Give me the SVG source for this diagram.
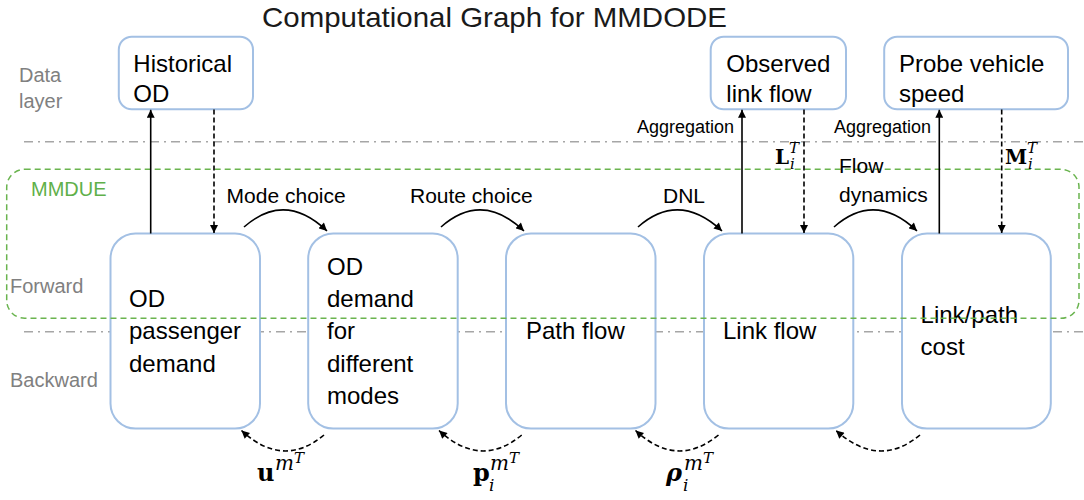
<svg xmlns="http://www.w3.org/2000/svg" width="1084" height="500" viewBox="0 0 1084 500">
<defs>
<marker id="ah" viewBox="0 0 10 10" refX="10" refY="5" markerUnits="userSpaceOnUse" markerWidth="9" markerHeight="8" orient="auto"><path d="M0,0 L10,5 L0,10 z" fill="#000"/></marker>
<style>
.box{fill:#fff;stroke:#a3c0e4;stroke-width:2}
.t{font-family:"Liberation Sans",Arial,sans-serif;font-size:24px;fill:#000}
.lbl{font-family:"Liberation Sans",Arial,sans-serif;font-size:21px;fill:#000}
.agg{font-family:"Liberation Sans",Arial,sans-serif;font-size:18px;fill:#000}
.side{font-family:"Liberation Sans",Arial,sans-serif;font-size:20px;fill:#808080}
.sep{stroke:#a6a6a6;stroke-width:1.5;stroke-dasharray:9 5 2 5;fill:none}
.mmdue{fill:none;stroke:#6ab44f;stroke-width:1.5;stroke-dasharray:6 4}
.solid{stroke:#000;stroke-width:1.6;fill:none;marker-end:url(#ah)}
.dash{stroke:#000;stroke-width:1.6;fill:none;stroke-dasharray:5 3;marker-end:url(#ah)}
.mb{font-family:"DejaVu Serif",serif;font-weight:bold;fill:#000}
.mi{font-family:"DejaVu Serif",serif;font-style:italic;fill:#000}
</style>
</defs>

<text x="262" y="27" font-family="Liberation Sans, Arial, sans-serif" font-size="28" fill="#1a1a1a" textLength="465" lengthAdjust="spacingAndGlyphs">Computational Graph for MMDODE</text>

<g id="layers">
<line class="sep" x1="24" y1="141.7" x2="1084" y2="141.7"/>
<line class="sep" x1="24" y1="331.7" x2="1084" y2="331.7"/>
<text class="side" x="19" y="81.7">Data</text>
<text class="side" x="19" y="108.3">layer</text>
<text class="side" x="10" y="292.7" font-size="21">Forward</text>
<text class="side" x="10" y="386.7" font-size="21">Backward</text>
</g>

<g id="historical-od">
<rect class="box" x="118.8" y="36.7" width="134.2" height="72.6" rx="13"/>
<text class="t" x="133.3" y="71.7">Historical</text>
<text class="t" x="133.3" y="101.7">OD</text>
</g>
<g id="observed-link-flow">
<rect class="box" x="710.7" y="36.7" width="135.3" height="72.6" rx="13"/>
<text class="t" x="726.3" y="71.7">Observed</text>
<text class="t" x="726.3" y="101.7">link flow</text>
</g>
<g id="probe-vehicle-speed">
<rect class="box" x="884.2" y="36.7" width="183.8" height="72.6" rx="13"/>
<text class="t" x="899" y="71.7">Probe vehicle</text>
<text class="t" x="899" y="101.7">speed</text>
</g>

<g id="od-passenger-demand">
<rect class="box" x="110.5" y="233.5" width="149.5" height="195" rx="25"/>
<text class="t" x="129" y="307.3">OD</text>
<text class="t" x="129" y="339.3">passenger</text>
<text class="t" x="129" y="371.7">demand</text>
</g>
<g id="od-demand-modes">
<rect class="box" x="308.2" y="233.5" width="149.5" height="195" rx="25"/>
<text class="t" x="327" y="275">OD</text>
<text class="t" x="327" y="307.3">demand</text>
<text class="t" x="327" y="339.3">for</text>
<text class="t" x="327" y="371.7">different</text>
<text class="t" x="327" y="404">modes</text>
</g>
<g id="path-flow">
<rect class="box" x="506" y="233.5" width="149.5" height="195" rx="25"/>
<text class="t" x="526" y="339.3">Path flow</text>
</g>
<g id="link-flow">
<rect class="box" x="704" y="233.5" width="149.3" height="195" rx="25"/>
<text class="t" x="723" y="339.3">Link flow</text>
</g>
<g id="link-path-cost">
<rect class="box" x="902" y="233.5" width="148.8" height="195" rx="25"/>
<text class="t" x="920.6" y="323.3">Link/path</text>
<text class="t" x="920.6" y="355">cost</text>
</g>

<g id="mmdue">
<rect class="mmdue" x="6.7" y="169.3" width="1072.3" height="149" rx="18"/>
<text x="31" y="196.3" font-family="Liberation Sans, Arial, sans-serif" font-size="20" fill="#5fb04a">MMDUE</text>
</g>

<g id="connectors">
<line class="solid" x1="150.7" y1="233.5" x2="150.7" y2="109.8"/>
<line class="dash" x1="214" y1="109.5" x2="214" y2="233"/>
<line class="solid" x1="742" y1="233.5" x2="742" y2="109.8"/>
<line class="dash" x1="804" y1="109.5" x2="804" y2="233"/>
<line class="solid" x1="939.3" y1="233.5" x2="939.3" y2="109.8"/>
<line class="dash" x1="1001.7" y1="109.5" x2="1001.7" y2="233"/>

<path class="solid" d="M244,227 Q285,191 327,231"/>
<path class="solid" d="M441,227 Q482,191 524,231"/>
<path class="solid" d="M638,227 Q679,191 722,231"/>
<path class="solid" d="M834,227 Q875,191 917,231"/>

<path class="dash" d="M324,435 Q283,469 241.5,430.5"/>
<path class="dash" d="M521.7,435 Q481,469 439,430.5"/>
<path class="dash" d="M718.5,435 Q677,469 635.5,430.5"/>
<path class="dash" d="M920,435 Q879,469 836,430.5"/>

<text class="lbl" x="226.6" y="203.3">Mode choice</text>
<text class="lbl" x="410" y="203.3">Route choice</text>
<text class="lbl" x="663" y="203.3">DNL</text>
<text class="lbl" x="839" y="173.3">Flow</text>
<text class="lbl" x="839" y="201.7">dynamics</text>
<text class="agg" x="637" y="133.3">Aggregation</text>
<text class="agg" x="834" y="133.3">Aggregation</text>

<text class="mb" x="775" y="163.5" font-size="20">L</text>
<text class="mi" x="789" y="153" font-size="15">T</text>
<text class="mi" x="790" y="169" font-size="15">i</text>
<text class="mb" x="1005" y="163.5" font-size="20">M</text>
<text class="mi" x="1027" y="153" font-size="15">T</text>
<text class="mi" x="1028" y="169" font-size="15">i</text>

<text class="mb" x="257" y="481" font-size="24">u</text>
<text class="mi" x="275" y="470" font-size="20">m</text>
<text class="mi" x="294" y="463" font-size="15">T</text>

<text class="mb" x="473" y="481" font-size="24">p</text>
<text class="mi" x="489" y="491" font-size="17">i</text>
<text class="mi" x="490" y="470" font-size="20">m</text>
<text class="mi" x="509" y="463" font-size="15">T</text>

<text class="mb" x="666" y="481" font-size="24" font-style="italic">ρ</text>
<text class="mi" x="683" y="491" font-size="17">i</text>
<text class="mi" x="684" y="470" font-size="20">m</text>
<text class="mi" x="703" y="463" font-size="15">T</text>
</g>
</svg>
